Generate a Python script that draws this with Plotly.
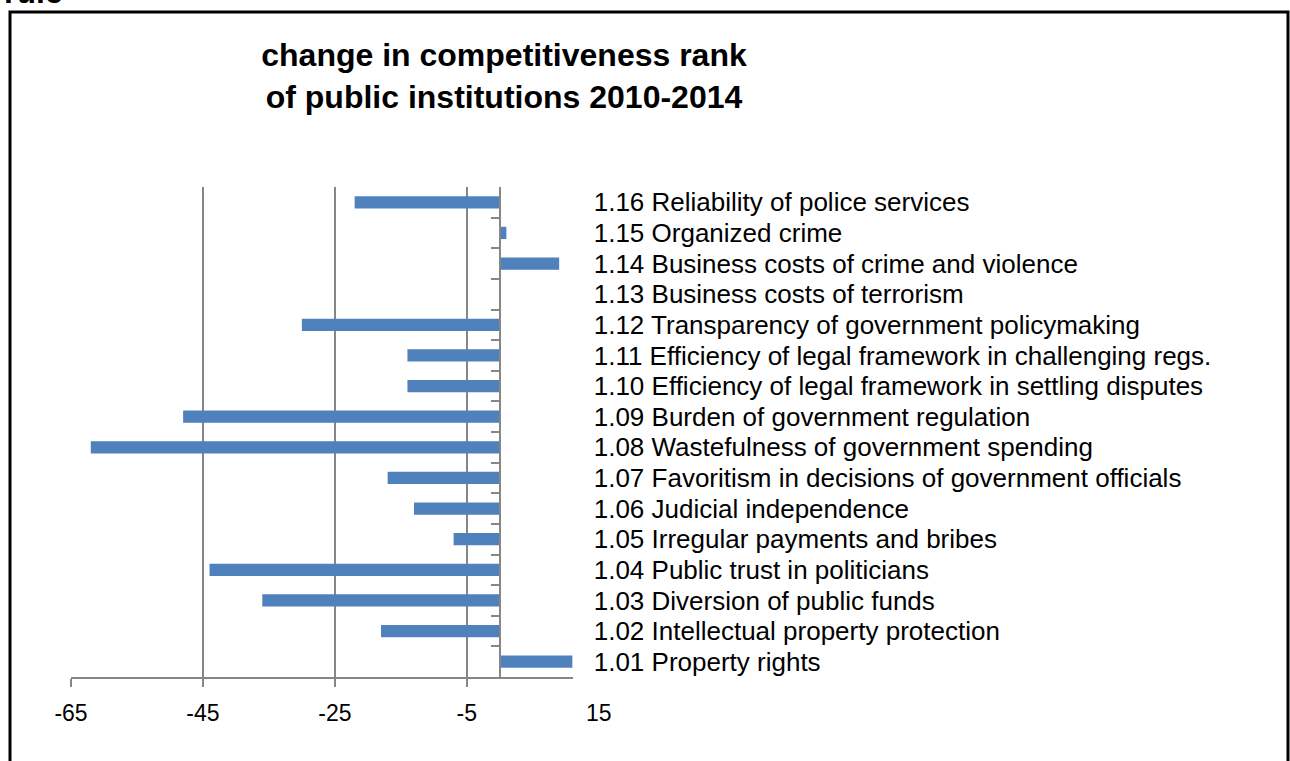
import plotly.graph_objects as go

categories = [
    "1.01 Property rights",
    "1.02 Intellectual property protection",
    "1.03 Diversion of public funds",
    "1.04 Public trust in politicians",
    "1.05 Irregular payments and bribes",
    "1.06 Judicial independence",
    "1.07 Favoritism in decisions of government officials",
    "1.08 Wastefulness of government spending",
    "1.09 Burden of government regulation",
    "1.10 Efficiency of legal framework in settling disputes",
    "1.11 Efficiency of legal framework in challenging regs.",
    "1.12 Transparency of government policymaking",
    "1.13 Business costs of terrorism",
    "1.14 Business costs of crime and violence",
    "1.15 Organized crime",
    "1.16 Reliability of police services",
]
values = [11, -18, -36, -44, -7, -13, -17, -62, -48, -14, -14, -30, 0, 9, 1, -22]
x_ticks = [-65, -45, -25, -5, 15]
x_min, x_max = -65, 11.1

title_text = "<b>change in competitiveness rank<br>of public institutions 2010-2014</b>"
corner_text = "<b>rule</b>"

W, H = 1290, 761
L, R, T, B = 71, 717, 187, 84
pw, ph = W - L - R, H - T - B


def sx(px):
    return (px - L) / pw


def sy(py):
    return (H - B - py) / ph


grid = "#868686"
font_fam = "Liberation Sans, Arial, sans-serif"

fig = go.Figure(go.Bar(
    y=categories, x=values, orientation="h",
    marker=dict(color="#4F81BD", line=dict(width=0)),
    width=0.4,
))

in_range = [t for t in x_ticks if x_min <= t <= x_max]
out_range = [t for t in x_ticks if t > x_max]

fig.update_layout(
    width=W, height=H,
    margin=dict(l=L, r=R, t=T, b=B, autoexpand=False),
    paper_bgcolor="white", plot_bgcolor="white",
    showlegend=False,
    font=dict(family=font_fam, color="black"),
    xaxis=dict(
        range=[x_min, x_max], tickvals=in_range, ticktext=[str(t) for t in in_range],
        showgrid=True, gridcolor=grid, gridwidth=1.5,
        showline=True, linecolor=grid, linewidth=1.5,
        ticks="outside", ticklen=8, tickcolor=grid, tickwidth=1.5,
        zeroline=False, tickfont=dict(size=23, family=font_fam, color="black"),
        ticklabelstandoff=7, automargin=False, fixedrange=True,
    ),
    yaxis=dict(
        type="category", categoryorder="array", categoryarray=categories,
        tickmode="array", tickvals=categories, ticktext=categories,
        anchor="free", position=(0 - x_min) / (x_max - x_min), side="right",
        showline=True, linecolor=grid, linewidth=1.5,
        ticks="inside", ticklen=8, tickcolor=grid, tickwidth=1.5,
        tickson="boundaries", showgrid=False, zeroline=False,
        tickfont=dict(size=26, family=font_fam, color="black"),
        ticklabelstandoff=88, automargin=False, fixedrange=True,
    ),
    title=dict(
        text=title_text, x=504 / W, xanchor="center", xref="container",
        y=1 - 66 / H, yanchor="middle", yref="container",
        font=dict(size=32, family=font_fam, color="black"),
    ),
)

for t in out_range:
    fig.add_annotation(
        x=(t - x_min) / (x_max - x_min), xref="paper", y=sy(713), yref="paper",
        text=str(t), showarrow=False, xanchor="center", yanchor="middle",
        font=dict(size=23, family=font_fam, color="black"),
    )

fig.add_annotation(
    x=sx(65), xref="paper", y=sy(12), yref="paper",
    text=corner_text, showarrow=False, xanchor="right", yanchor="bottom",
    font=dict(size=32, family=font_fam, color="black"),
)

fig.add_shape(
    type="rect", xref="paper", yref="paper",
    x0=sx(10), x1=sx(1288), y0=sy(800), y1=sy(12),
    line=dict(color="black", width=3), fillcolor="rgba(0,0,0,0)",
)

fig.write_html(
    "out.html",
    config={"displayModeBar": False},
    post_script=(
        "document.documentElement.style.overflow='hidden';"
        "document.body.style.overflow='hidden';"
        "document.body.style.margin='0';"
    ),
)
